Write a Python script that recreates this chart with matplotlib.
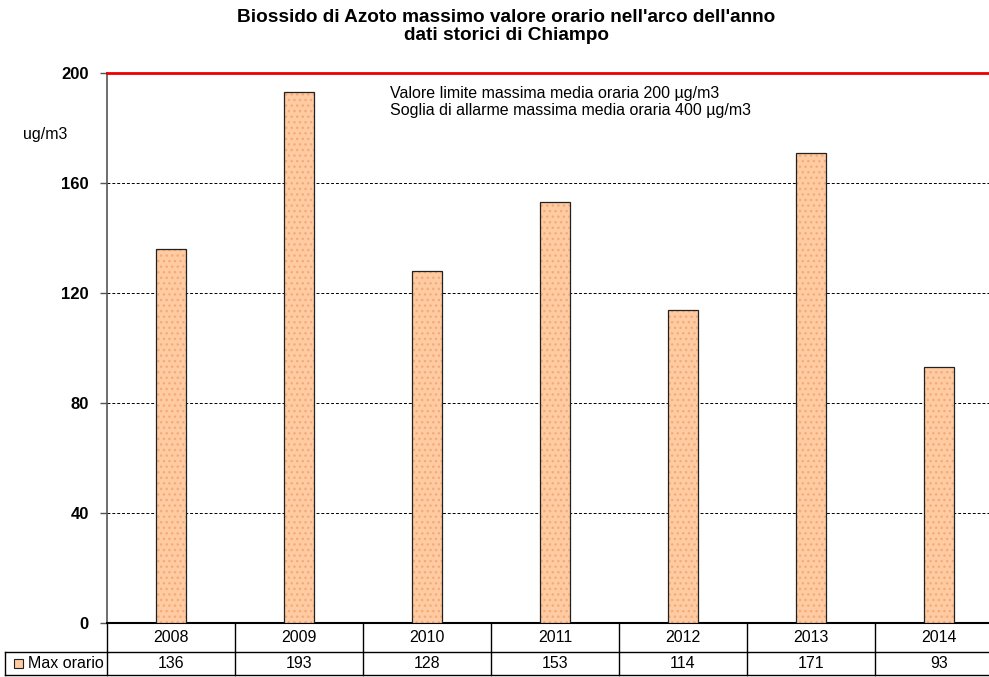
import matplotlib
matplotlib.use("Agg")
import matplotlib.pyplot as plt
import matplotlib.transforms as mtransforms

plt.rcParams['font.family'] = ['Liberation Sans', 'DejaVu Sans']
plt.rcParams['hatch.linewidth'] = 1.0

years = ['2008', '2009', '2010', '2011', '2012', '2013', '2014']
max_orario = [136, 193, 128, 153, 114, 171, 93]
yticks = [0, 40, 80, 120, 160, 200]
limit = 200
series_name = 'Max orario'

W, H = 989, 677
fig = plt.figure(figsize=(W / 100, H / 100), dpi=100)

# plot area (extends slightly past the right edge, like the reference crop)
x0, x1 = 107, 1003
y_top, y_bot = 73, 623
ax = fig.add_axes([x0 / W, 1 - y_bot / H, (x1 - x0) / W, (y_bot - y_top) / H])

xs = range(len(years))
bar_col = '#FFCBA2'
dot_col = '#F5AA78'
# fill + dotted pattern, then the dark outline on top
ax.bar(xs, max_orario, width=0.235, color=bar_col, edgecolor=dot_col,
       linewidth=0, hatch='...', zorder=3)
ax.bar(xs, max_orario, width=0.235, color='none', edgecolor='#222222',
       linewidth=0.9, zorder=4)

ax.set_xlim(-0.5, len(years) - 0.5)
ax.set_ylim(0, 200)
ax.set_yticks(yticks)
ax.set_yticklabels([str(v) for v in yticks], fontweight='bold', fontsize=12)
ax.tick_params(axis='y', length=5, width=1, color='#555555', pad=8)
ax.set_xticks([])

for v in yticks[1:-1]:
    ax.axhline(v, color='black', linestyle=(0, (3, 2)), linewidth=0.7, zorder=1)
ax.axhline(limit, color='#EE0000', linewidth=2, zorder=5, clip_on=False)

for s in ['top', 'right']:
    ax.spines[s].set_visible(False)
ax.spines['left'].set_color('#555555')
ax.spines['left'].set_linewidth(1.2)
ax.spines['bottom'].set_color('black')
ax.spines['bottom'].set_linewidth(1.5)

fig.text(23 / W, 1 - 135 / H, 'ug/m3', fontsize=11.5, ha='left', va='center')
fig.text(390 / W, 1 - 102 / H, 'Valore limite massima media oraria 200 \u00b5g/m3\n'
         'Soglia di allarme massima media oraria 400 \u00b5g/m3',
         fontsize=11.5, ha='left', va='center', linespacing=1.2)

fig.text(506 / W, 1 - 17 / H, "Biossido di Azoto massimo valore orario nell'arco dell'anno",
         ha='center', va='center', fontsize=13.7, fontweight='bold')
fig.text(506 / W, 1 - 36 / H, 'dati storici di Chiampo',
         ha='center', va='center', fontsize=13.7, fontweight='bold')

# data table below the axis
trans = mtransforms.blended_transform_factory(ax.transData, fig.transFigure)
r0, r1, r2 = 1 - 624 / H, 1 - 652 / H, 1 - 675 / H
lw = 1.0
for i in range(len(years) + 1):
    xb = i - 0.5
    fig.add_artist(plt.Line2D([xb, xb], [r2, r0], transform=trans, color='black', lw=lw))
fig.add_artist(plt.Line2D([5 / W, 1], [r1, r1], transform=fig.transFigure, color='black', lw=lw))
fig.add_artist(plt.Line2D([5 / W, 1], [r2, r2], transform=fig.transFigure, color='black', lw=lw))
fig.add_artist(plt.Line2D([5 / W, 5 / W], [r2, r1], transform=fig.transFigure, color='black', lw=lw))

for i, (yr, v) in enumerate(zip(years, max_orario)):
    fig.text(i, (r0 + r1) / 2, yr, transform=trans, ha='center', va='center', fontsize=11.5)
    fig.text(i, (r1 + r2) / 2, str(v), transform=trans, ha='center', va='center', fontsize=11.5)

fig.add_artist(plt.Rectangle((14 / W, (r1 + r2) / 2 - 4.5 / H), 9 / W, 9 / H,
                             transform=fig.transFigure, facecolor=bar_col,
                             edgecolor='#222222', lw=0.8))
fig.text(28 / W, (r1 + r2) / 2, series_name, ha='left', va='center', fontsize=11.5)

fig.savefig('out.png', dpi=100)
